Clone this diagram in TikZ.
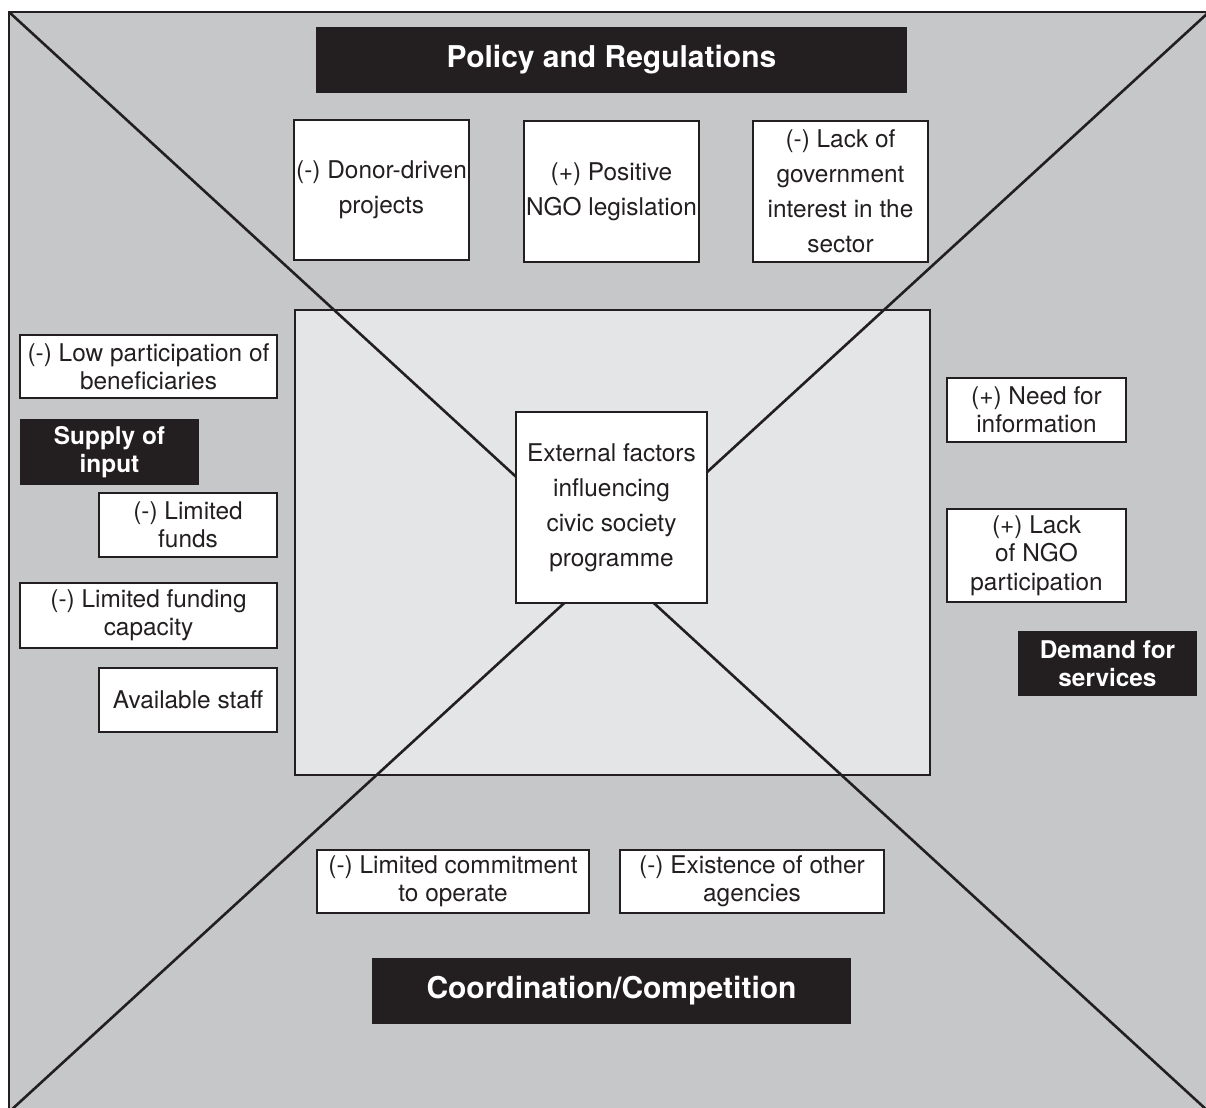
\documentclass[tikz,border=0pt]{standalone}
\usepackage{fontspec}
\setmainfont{TeX Gyre Heros}

\definecolor{outergray}{HTML}{C6C7C9}
\definecolor{innergray}{HTML}{E4E5E7}
\definecolor{inkblack}{HTML}{231F20}

\tikzset{
    factor/.style={draw=inkblack, fill=white, line width=1pt, align=center, inner sep=0pt,
        text=inkblack, font=\fontsize{12.2}{14.2}\selectfont},
    tallfactor/.style={factor, font=\fontsize{12.2}{17.5}\selectfont},
    heading/.style={fill=inkblack, text=white, align=center, inner sep=0pt,
        font=\bfseries\fontsize{15}{17}\selectfont},
    sidehead/.style={heading, font=\bfseries\fontsize{12.2}{14}\selectfont}
}

\begin{document}
\begin{tikzpicture}[x=0.5pt, y=-0.5pt]
    \useasboundingbox (0, 0) rectangle (1206, 1108);

    % Corners of the frame
    \coordinate (nw) at (9, 12);
    \coordinate (ne) at (1209, 12);
    \coordinate (sw) at (9, 1112);
    \coordinate (se) at (1209, 1112);

    % Background regions
    \draw[fill=outergray, draw=inkblack, line width=1.4pt] (nw) rectangle (se);
    \draw[fill=innergray, draw=inkblack, line width=1.2pt] (295, 310) rectangle (930, 775);

    % Diagonals
    \foreach \a/\b in {nw/se, ne/sw}
        \draw[inkblack, line width=1.3pt] (\a) -- (\b);

    % Headings
    \node[heading, minimum width=295.5pt, minimum height=33pt] (policy) at (611.5, 60) {Policy and Regulations};
    \node[heading, minimum width=239.5pt, minimum height=33pt] (coord) at (611.5, 991) {Coordination/Competition};
    \node[sidehead, minimum width=89.5pt, minimum height=33pt] (supply) at (109.5, 452) {Supply of\\input};
    \node[sidehead, minimum width=89.5pt, minimum height=32.5pt] (demand) at (1107.5, 663.5) {Demand for\\services};

    % Policy factors
    \node[tallfactor, minimum width=87.5pt, minimum height=70pt] (donor) at (381.5, 190) {(-) Donor-driven\\projects};
    \node[tallfactor, minimum width=87.5pt, minimum height=70.5pt] (legis) at (611.5, 191.5) {(+) Positive\\NGO legislation};
    \node[tallfactor, minimum width=87.5pt, minimum height=70.5pt] (govt) at (840.5, 191.5) {(-) Lack of\\government\\interest in the\\sector};

    % Supply factors
    \node[factor, minimum width=128.5pt, minimum height=31.5pt] (lowpart) at (148.5, 366.5) {(-) Low participation of\\beneficiaries};
    \node[factor, minimum width=89pt, minimum height=32pt] (funds) at (188, 525) {(-) Limited\\funds};
    \node[factor, minimum width=128.5pt, minimum height=32.5pt] (capacity) at (148.5, 615.5) {(-) Limited funding\\capacity};
    \node[factor, minimum width=89pt, minimum height=32pt] (staff) at (188, 700) {Available staff};

    % Demand factors
    \node[factor, minimum width=89.5pt, minimum height=32pt] (needinfo) at (1036.5, 410) {(+) Need for\\information};
    \node[factor, minimum width=89.5pt, minimum height=46.5pt] (ngopart) at (1036.5, 555.5) {(+) Lack\\of NGO\\participation};

    % Coordination factors
    \node[factor, minimum width=136pt, minimum height=31.5pt] (commit) at (453, 881.5) {(-) Limited commitment\\to operate};
    \node[factor, minimum width=132pt, minimum height=31.5pt] (agencies) at (752, 881.5) {(-) Existence of other\\agencies};

    % Centre
    \node[tallfactor, minimum width=95.5pt, minimum height=95.5pt] (centre) at (611.5, 507.5) {External factors\\influencing\\civic society\\programme};

\end{tikzpicture}
\end{document}
